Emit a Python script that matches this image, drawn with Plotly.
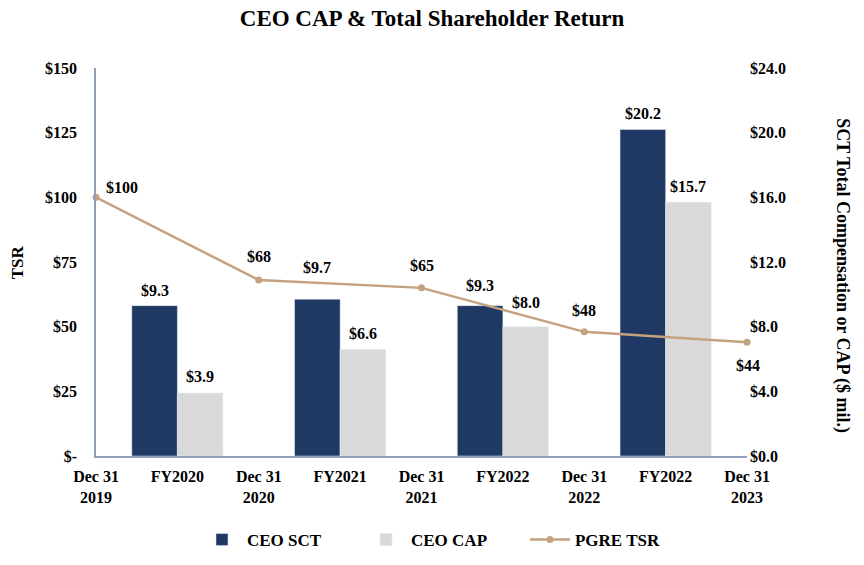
import plotly.graph_objects as go

# Data
x_labels = ["Dec 31<br>2019", "FY2020", "Dec 31<br>2020", "FY2021", "Dec 31<br>2021",
            "FY2022", "Dec 31<br>2022", "FY2022", "Dec 31<br>2023"]
fy_pos = [1, 3, 5, 7]
ceo_sct = [9.3, 9.7, 9.3, 20.2]
ceo_cap = [3.9, 6.6, 8.0, 15.7]
tsr_pos = [0, 2, 4, 6, 8]
pgre_tsr = [100, 68, 65, 48, 44]
left_ticks = [0, 25, 50, 75, 100, 125, 150]
left_ticktext = ["$-", "$25", "$50", "$75", "$100", "$125", "$150"]
right_ticks = [0, 4, 8, 12, 16, 20, 24]
right_ticktext = ["$0.0", "$4.0", "$8.0", "$12.0", "$16.0", "$20.0", "$24.0"]

# Label placement (pixels from the data point) - styling only
sct_label_dy = [15, 32, 20, 16]
cap_label_dy = [16, 16, 24, 16]
tsr_label_dx = [26, 0, 0, 0, 1]
tsr_label_dy = [10, 24, 22, 21, -23]

FONT = "Liberation Serif"
NAVY = "#1F3864"
GREY = "#D9D9D9"
TAN = "#C4A27F"
AXIS = "#8E9DBA"
BAR_W = 0.56

fig = go.Figure()
# Bars on the compensation axis (y, drawn first), line on TSR axis (y2, drawn on top)
fig.add_trace(go.Bar(
    x=fy_pos, y=ceo_sct, name="<b>CEO SCT</b>", yaxis="y",
    marker=dict(color=NAVY), width=BAR_W, offset=-BAR_W,
))
fig.add_trace(go.Bar(
    x=fy_pos, y=ceo_cap, name="<b>CEO CAP</b>", yaxis="y",
    marker=dict(color=GREY), width=BAR_W, offset=0,
))
fig.add_trace(go.Scatter(
    x=tsr_pos, y=pgre_tsr, name="<b>PGRE TSR</b>", yaxis="y2",
    mode="lines+markers",
    line=dict(color=TAN, width=2.5), marker=dict(color=TAN, size=7),
    cliponaxis=False,
))

label_font = dict(family=FONT, size=16, color="black")
annotations = []
for xp, v, dy in zip(fy_pos, ceo_sct, sct_label_dy):
    annotations.append(dict(x=xp - BAR_W / 2, y=v, xref="x", yref="y", text=f"<b>${v:.1f}</b>",
                            showarrow=False, yshift=dy, xanchor="center", yanchor="middle",
                            font=label_font))
for xp, v, dy in zip(fy_pos, ceo_cap, cap_label_dy):
    annotations.append(dict(x=xp + BAR_W / 2, y=v, xref="x", yref="y", text=f"<b>${v:.1f}</b>",
                            showarrow=False, yshift=dy, xanchor="center", yanchor="middle",
                            font=label_font))
for xp, v, dx, dy in zip(tsr_pos, pgre_tsr, tsr_label_dx, tsr_label_dy):
    annotations.append(dict(x=xp, y=v, xref="x", yref="y2", text=f"<b>${v}</b>",
                            showarrow=False, xshift=dx, yshift=dy, xanchor="center",
                            yanchor="middle", font=label_font))
annotations += [
    dict(text="<b>TSR</b>", x=-0.121, xref="paper", y=0.5, yref="paper", showarrow=False,
         textangle=-90, xanchor="center", yanchor="middle", font=dict(family=FONT, size=17)),
    dict(text="<b>SCT Total Compensation or CAP ($ mil.)</b>", x=1.1475, xref="paper", y=0.466,
         yref="paper", showarrow=False, textangle=90, xanchor="center", yanchor="middle",
         font=dict(family=FONT, size=18)),
]

fig.update_layout(
    width=864, height=565,
    paper_bgcolor="white", plot_bgcolor="white",
    margin=dict(l=96, r=117, t=68, b=109),
    barmode="overlay",
    font=dict(family=FONT, size=16, color="black"),
    title=dict(text="<b>CEO CAP & Total Shareholder Return</b>", x=0.5, xanchor="center",
               y=1 - 18 / 565, yref="container", yanchor="middle",
               font=dict(family=FONT, size=23, color="black")),
    xaxis=dict(range=[0, 8], tickvals=list(range(9)), ticktext=[f"<b>{t}</b>" for t in x_labels],
               showgrid=False, zeroline=False, showline=True, linecolor=AXIS, linewidth=1.5,
               ticks="", tickangle=0, ticklabelstandoff=5,
               tickfont=dict(family=FONT, size=16, color="black")),
    yaxis=dict(range=[0, 24], tickvals=right_ticks, ticktext=[f"<b>{t}</b>" for t in right_ticktext],
               side="right", showgrid=False, zeroline=False, showline=False,
               ticks="", ticklabelstandoff=2, tickfont=dict(family=FONT, size=16, color="black")),
    yaxis2=dict(range=[0, 150], tickvals=left_ticks, ticktext=[f"<b>{t}</b>" for t in left_ticktext],
                overlaying="y", side="left", showgrid=False, zeroline=False, showline=True,
                linecolor=AXIS, linewidth=1.5,
                ticks="", ticklabelstandoff=14, tickfont=dict(family=FONT, size=16, color="black")),
    legend=dict(orientation="h", x=0.533, xanchor="center", y=1 - 540 / 565, yref="container",
                yanchor="middle", font=dict(family=FONT, size=17, color="black"), itemwidth=40,
                traceorder="normal", entrywidth=109),
    showlegend=True,
    annotations=annotations,
)

fig.write_html("out.html", config={"displayModeBar": False},
               post_script="document.body.style.margin='0px';")
